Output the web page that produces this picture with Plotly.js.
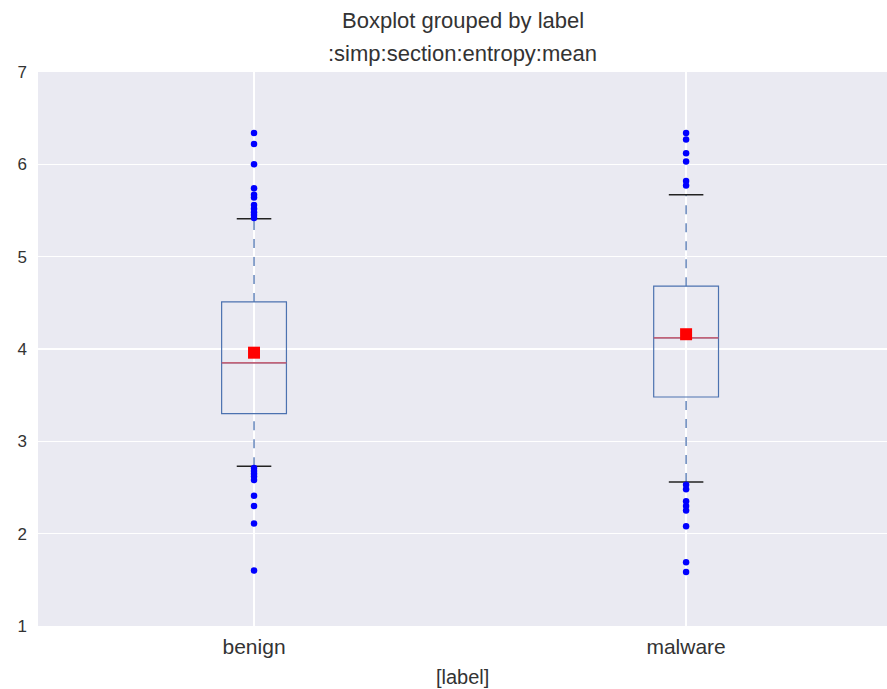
<!DOCTYPE html>
<html><head><meta charset="utf-8">
<script src="https://cdn.plot.ly/plotly-3.0.1.min.js"></script>
<style>html,body{margin:0;padding:0;background:#fff;}#c{width:887px;height:689px;}</style>
</head><body><div id="c"></div>
<script>
const categories = ['benign', 'malware'];
const q1 = [3.30, 3.48];
const medians = [3.85, 4.12];
const q3 = [4.51, 4.68];
const lowerWhisker = [2.73, 2.56];
const upperWhisker = [5.41, 5.67];
const means = [3.96, 4.16];
const outliersBenign = [6.34, 6.22, 6.00, 5.74, 5.67, 5.64, 5.56, 5.52, 5.48, 5.45, 5.42,
                        2.71, 2.68, 2.65, 2.62, 2.58, 2.41, 2.30, 2.11, 1.60];
const outliersMalware = [6.34, 6.27, 6.12, 6.03, 5.82, 5.77,
                         2.53, 2.48, 2.35, 2.30, 2.25, 2.08, 1.69, 1.585];
const yTicks = [1, 2, 3, 4, 5, 6, 7];

const boxColor = '#4C72B0';
const boxHalf = 0.075, capHalf = 0.04;
const pos = categories.map((c, i) => i);
const traces = [];

// whiskers (dashed)
pos.forEach(i => {
  traces.push({type:'scatter', mode:'lines', x:[i,i], y:[q3[i], upperWhisker[i]],
    line:{color:boxColor, width:1.3, dash:'dash'}, hoverinfo:'skip', showlegend:false});
  traces.push({type:'scatter', mode:'lines', x:[i,i], y:[lowerWhisker[i], q1[i]],
    line:{color:boxColor, width:1.3, dash:'dash'}, hoverinfo:'skip', showlegend:false});
});
// boxes
traces.push({type:'box', x:pos, q1:q1, median:medians, q3:q3, lowerfence:q1, upperfence:q3,
  width:2*boxHalf, fillcolor:'rgba(0,0,0,0)', line:{color:boxColor, width:1.2},
  whiskerwidth:0, boxpoints:false, hoverinfo:'skip', showlegend:false});
// medians
pos.forEach(i => {
  traces.push({type:'scatter', mode:'lines', x:[i-boxHalf, i+boxHalf], y:[medians[i], medians[i]],
    line:{color:'#DE5560', width:1.3}, hoverinfo:'skip', showlegend:false});
});
// caps
pos.forEach(i => {
  [lowerWhisker[i], upperWhisker[i]].forEach(v => {
    traces.push({type:'scatter', mode:'lines', x:[i-capHalf, i+capHalf], y:[v, v],
      line:{color:'#222222', width:1.5}, hoverinfo:'skip', showlegend:false});
  });
});
// outliers
traces.push({type:'scatter', mode:'markers', x:outliersBenign.map(() => 0), y:outliersBenign,
  marker:{color:'#0000FF', size:6.5}, showlegend:false});
traces.push({type:'scatter', mode:'markers', x:outliersMalware.map(() => 1), y:outliersMalware,
  marker:{color:'#0000FF', size:6.5}, showlegend:false});
// means
traces.push({type:'scatter', mode:'markers', x:pos, y:means,
  marker:{color:'#FF0000', size:12, symbol:'square'}, showlegend:false});

const layout = {
  width:887, height:689,
  margin:{l:38, r:0, t:72, b:63},
  paper_bgcolor:'#FFFFFF', plot_bgcolor:'#EAEAF2',
  font:{family:'Liberation Sans, Arial, sans-serif', color:'#333333'},
  xaxis:{range:[-0.5, 1.465], tickvals:pos, ticktext:categories, showgrid:true, gridcolor:'#FFFFFF',
    gridwidth:1.2, zeroline:false, showline:false, ticks:'', ticklabelstandoff:6,
    tickfont:{size:21, color:'#333333'}},
  yaxis:{range:[1, 7], tickvals:yTicks, showgrid:true, gridcolor:'#FFFFFF', gridwidth:1.2,
    zeroline:false, showline:false, ticks:'', ticklabelstandoff:10,
    tickfont:{size:17, color:'#333333'}},
  annotations:[
    {text:'Boxplot grouped by label', xref:'paper', yref:'paper', x:0.5, y:1, yshift:52,
     xanchor:'center', yanchor:'middle', showarrow:false, font:{size:22, color:'#333333'}},
    {text:':simp:section:entropy:mean', xref:'paper', yref:'paper', x:0.5, y:1, yshift:19,
     xanchor:'center', yanchor:'middle', showarrow:false, font:{size:22, color:'#333333'}},
    {text:'[label]', xref:'paper', yref:'paper', x:0.5, y:0, yshift:-51,
     xanchor:'center', yanchor:'middle', showarrow:false, font:{size:20, color:'#333333'}}
  ]
};
Plotly.newPlot('c', traces, layout, {displayModeBar:false, staticPlot:true});
</script></body></html>
